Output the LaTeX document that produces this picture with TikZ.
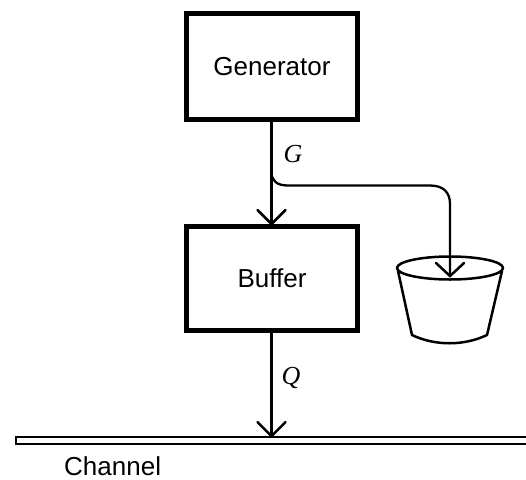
\documentclass[tikz,border=0pt]{standalone}
\usepackage{fontspec}
\setmainfont{Liberation Sans}
\newfontfamily\mathserif{Liberation Serif}[ItalicFont={Liberation Serif Italic}]
\usetikzlibrary{arrows.meta,calc}
\tikzset{
  block/.style={draw=black,line width=5pt,fill=white,inner sep=0pt,minimum width=171pt,font=\fontsize{26}{30}\selectfont},
  flow/.style={line width=2.3pt,draw=black,line cap=round},
  tipv/.style={line width=2.5pt,draw=black,line cap=round,line join=miter},
  sym/.style={inner sep=0pt,font=\mathserif\itshape\fontsize{26}{28}\selectfont},
  cap text/.style={inner sep=0pt,font=\fontsize{26}{30}\selectfont},
  bucket/.style={line width=2.5pt,draw=black,line join=round}
}
\begin{document}
\begin{tikzpicture}[x=1pt,y=-1pt]
\useasboundingbox (0,0) rectangle (526,479);
\node[block,minimum height=106pt] (gen) at (272,66.5) {Generator};
\node[block,minimum height=104pt] (buf) at (272,278.5) {Buffer};
\node[draw=black,line width=2.4pt,fill=white,inner sep=0pt,minimum width=520pt,minimum height=6.5pt] (chan) at (276,440.5) {};
\node[cap text,anchor=base west] (chanlabel) at (64,475.5) {Channel};
\node[sym] (glabel) at (293,154) {G};
\node[sym] (qlabel) at (291,378) {Q};
% bucket
\coordinate (bc) at (450,268);
\coordinate (bl) at (398,271);
\coordinate (br) at (502,271);
\coordinate (bbl) at (412,335);
\coordinate (bbr) at (487,335);
\draw[bucket] (bl) -- (bbl) .. controls (435,346) and (464,346) .. (bbr) -- (br);
\draw[bucket] (bc) ellipse [x radius=53,y radius=11.5];
\coordinate (btip) at (450,276);
\coordinate (jn) at (271.5,172);
% connectors
\draw[flow] (gen.south -| jn) -- (buf.north -| jn);
\draw[tipv] ($(buf.north -| jn)+(-14,-14)$) -- ($(buf.north -| jn)+(0,0)$) -- ($(buf.north -| jn)+(14,-14)$);
\draw[flow] (jn) .. controls (271.5,181) and (277,185.5) .. (288,185.5) -- (430,185.5) .. controls (443,185.5) and (450,192) .. (450,204) -- (btip);
\draw[tipv] ($(btip)+(-14,-13)$) -- (btip) -- ($(btip)+(14,-13)$);
\draw[flow] (buf.south -| jn) -- (chan.north -| jn);
\draw[tipv] ($(chan.north -| jn)+(-14,-14)$) -- (chan.north -| jn) -- ($(chan.north -| jn)+(14,-14)$);
\end{tikzpicture}
\end{document}
